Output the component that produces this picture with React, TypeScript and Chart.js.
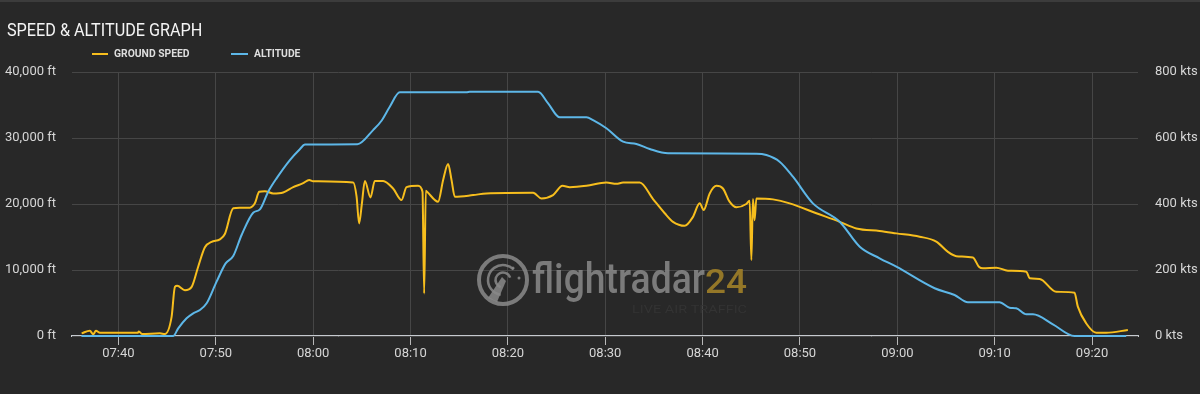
import React, { useEffect, useRef } from 'react';
import { Chart, registerables } from 'chart.js';

Chart.register(...registerables);

// Times are minutes after 07:00
const timeTickLabels = ['07:40', '07:50', '08:00', '08:10', '08:20', '08:30', '08:40', '08:50', '09:00', '09:10', '09:20'];
const timeMin = 35.23; // 07:35:14 (left edge)
const timeMax = 144.72; // 09:24:43 (right edge)

const speedMinutes = [36.22, 37.07, 37.41, 37.69, 38.1, 42.0, 42.1, 42.41, 44.26, 44.77, 45.46, 45.8, 46.04, 46.83, 47.52, 48.19, 48.88, 49.57, 50.42, 50.93, 51.79, 52.47, 53.5, 54.01, 54.46, 55.04, 55.89, 56.92, 57.95, 58.97, 59.59, 60.0, 64.11, 64.46, 64.72, 65.0, 65.31, 65.89, 66.33, 67.19, 68.21, 69.08, 69.59, 70.78, 71.23, 71.4, 71.57, 71.7, 72.83, 73.35, 73.86, 74.21, 74.55, 76.43, 77.8, 82.59, 83.45, 84.64, 85.61, 86.36, 88.07, 90.12, 91.15, 91.83, 93.54, 94.91, 96.11, 96.96, 98.16, 99.01, 99.7, 100.11, 100.73, 101.42, 102.09, 102.77, 103.47, 104.49, 104.83, 105.01, 105.17, 105.34, 105.52, 107.23, 108.94, 111.68, 114.08, 115.79, 118.18, 119.9, 122.29, 124.0, 125.2, 126.06, 127.76, 128.38, 128.79, 130.16, 131.36, 133.25, 133.59, 134.61, 136.32, 138.2, 138.54, 139.41, 140.43, 141.46, 143.68];
const speedKts = [8, 16, 5, 16, 10, 10, 14, 6, 8, 6, 58, 149, 152, 139, 149, 210, 269, 285, 293, 309, 387, 389, 389, 402, 437, 439, 432, 435, 451, 463, 473, 469, 465, 422, 341, 400, 470, 420, 470, 470, 447, 412, 451, 455, 437, 129, 440, 437, 407, 473, 521, 473, 422, 427, 432, 434, 417, 427, 455, 451, 455, 465, 461, 465, 465, 415, 372, 346, 334, 361, 402, 382, 432, 455, 447, 407, 390, 400, 410, 230, 415, 351, 417, 414, 402, 372, 346, 326, 318, 311, 301, 286, 255, 242, 238, 210, 205, 207, 198, 195, 175, 173, 134, 131, 89, 38, 10, 10, 18];

const altMinutes = [36.2, 45.63, 46.14, 47.0, 47.68, 48.37, 49.06, 50.08, 51.01, 51.79, 52.65, 53.84, 54.53, 55.38, 56.24, 57.61, 58.63, 59.15, 64.53, 66.16, 67.02, 67.87, 68.9, 75.75, 76.09, 83.1, 84.13, 85.33, 88.07, 88.75, 90.12, 91.83, 93.2, 94.57, 96.45, 105.52, 106.55, 107.91, 109.28, 111.33, 114.08, 116.14, 118.18, 119.9, 123.83, 125.88, 127.25, 130.5, 131.53, 132.21, 133.25, 133.93, 135.98, 138.2, 143.51];
const altFeet = [0, 0, 1160, 2680, 3440, 3940, 4950, 8230, 11010, 12120, 15300, 18680, 19190, 21860, 23890, 26660, 28300, 29000, 29040, 31200, 32620, 34740, 36920, 36920, 37010, 37010, 35250, 33130, 33130, 32720, 31470, 29440, 29090, 28330, 27680, 27620, 27420, 26410, 24130, 20100, 17320, 13530, 11770, 10500, 7230, 6210, 5100, 5100, 4290, 4200, 3280, 3280, 1770, 0, 0];

const SPEED_COLOR = '#f7be1d';
const ALT_COLOR = '#5db7e8';
const GRID_COLOR = '#464646';
const TEXT_COLOR = '#d6d6d6';

const toMinutes = (s: string) => {
  const [h, m] = s.split(':').map(Number);
  return (h - 7) * 60 + m;
};
const fmtTime = (v: number) => {
  const total = Math.round(v) + 7 * 60;
  const h = Math.floor(total / 60);
  const m = total % 60;
  return `${String(h).padStart(2, '0')}:${String(m).padStart(2, '0')}`;
};

const watermark = {
  id: 'fr24watermark',
  beforeDatasetsDraw(chart: any) {
    const ctx: CanvasRenderingContext2D = chart.ctx;
    ctx.save();
    const gray = 'rgba(138,138,138,0.85)';
    const cx = 503;
    const cy = 280;
    ctx.strokeStyle = gray;
    ctx.fillStyle = gray;
    ctx.lineWidth = 4;
    ctx.beginPath();
    ctx.arc(cx, cy, 24, 0, Math.PI * 2);
    ctx.stroke();
    ctx.lineWidth = 2.5;
    ctx.beginPath();
    ctx.arc(cx, cy, 15, Math.PI * 0.55, Math.PI * 1.75);
    ctx.stroke();
    ctx.beginPath();
    ctx.arc(cx, cy, 7.5, Math.PI * 0.6, Math.PI * 1.9);
    ctx.stroke();
    ctx.beginPath();
    ctx.moveTo(cx - 1, cy - 3);
    ctx.lineTo(cx + 3, cy + 1);
    ctx.lineTo(cx - 6, cy + 22);
    ctx.lineTo(cx - 15, cy + 18);
    ctx.closePath();
    ctx.fill();
    ctx.beginPath();
    ctx.arc(cx + 10, cy - 12, 1.5, 0, Math.PI * 2);
    ctx.fill();
    ctx.beginPath();
    ctx.arc(cx + 16, cy - 2, 1.5, 0, Math.PI * 2);
    ctx.fill();

    ctx.textBaseline = 'alphabetic';
    ctx.textAlign = 'left';
    // flightradar
    ctx.font = '500 42px Roboto';
    const w1 = ctx.measureText('flightradar').width;
    ctx.save();
    ctx.translate(532, 293);
    ctx.scale(173 / w1, 1);
    ctx.fillText('flightradar', 0, 0);
    ctx.restore();
    // 24
    ctx.font = '500 34px Roboto';
    const w2 = ctx.measureText('24').width;
    ctx.save();
    ctx.translate(705, 293);
    ctx.scale(42 / w2, 1);
    ctx.fillStyle = 'rgba(160,128,40,0.9)';
    ctx.fillText('24', 0, 0);
    ctx.restore();
    // tagline
    ctx.font = '11px Roboto';
    const w3 = ctx.measureText('LIVE AIR TRAFFIC').width;
    ctx.save();
    ctx.translate(632, 313);
    ctx.scale(115 / w3, 1);
    ctx.fillStyle = '#333333';
    ctx.fillText('LIVE AIR TRAFFIC', 0, 0);
    ctx.restore();
    ctx.restore();
  },
};

export default function App() {
  const canvasRef = useRef<HTMLCanvasElement>(null);

  useEffect(() => {
    const canvas = canvasRef.current;
    if (!canvas) return;
    const tickValues = timeTickLabels.map(toMinutes);
    const chart = new Chart(canvas, {
      type: 'line',
      data: {
        datasets: [
          {
            label: 'ALTITUDE',
            data: altMinutes.map((x, i) => ({ x, y: altFeet[i] })),
            borderColor: ALT_COLOR,
            backgroundColor: ALT_COLOR,
            borderWidth: 2,
            pointRadius: 0,
            cubicInterpolationMode: 'monotone',
            yAxisID: 'yAlt',
            clip: 4,
          },
          {
            label: 'GROUND SPEED',
            data: speedMinutes.map((x, i) => ({ x, y: speedKts[i] })),
            borderColor: SPEED_COLOR,
            backgroundColor: SPEED_COLOR,
            borderWidth: 2,
            pointRadius: 0,
            cubicInterpolationMode: 'monotone',
            yAxisID: 'ySpeed',
            clip: 4,
          },
        ],
      },
      options: {
        animation: false,
        responsive: false,
        devicePixelRatio: 1,
        layout: { padding: { top: 72, left: 0, right: 0, bottom: 0 } },
        plugins: {
          legend: { display: false },
          tooltip: { enabled: false },
          title: { display: false },
        },
        scales: {
          x: {
            type: 'linear',
            min: timeMin,
            max: timeMax,
            afterBuildTicks: (scale: any) => {
              scale.ticks = tickValues.map((v) => ({ value: v }));
            },
            afterFit: (scale: any) => {
              scale.height = 58;
            },
            ticks: {
              color: TEXT_COLOR,
              font: { family: 'Roboto', size: 13 },
              padding: 1,
              maxRotation: 0,
              autoSkip: false,
              callback: (v: any) => fmtTime(Number(v)),
            },
            grid: {
              color: GRID_COLOR,
              tickColor: '#b8b8b8',
              tickLength: 9,
              lineWidth: 1,
            },
            border: { display: true, color: '#c6cacf', width: 2, z: -1 },
          },
          yAlt: {
            type: 'linear',
            position: 'left',
            min: 0,
            max: 40000,
            afterFit: (scale: any) => {
              scale.width = 72;
            },
            ticks: {
              stepSize: 10000,
              color: TEXT_COLOR,
              font: { family: 'Roboto', size: 13 },
              padding: 16,
              callback: (v: any) => `${Number(v).toLocaleString('en-US')} ft`,
            },
            grid: { color: GRID_COLOR, drawTicks: false, lineWidth: 1 },
            border: { display: false },
          },
          ySpeed: {
            type: 'linear',
            position: 'right',
            min: 0,
            max: 800,
            afterFit: (scale: any) => {
              scale.width = 62;
            },
            ticks: {
              stepSize: 200,
              color: TEXT_COLOR,
              font: { family: 'Roboto', size: 13 },
              padding: 17,
              callback: (v: any) => `${v} kts`,
            },
            grid: { drawOnChartArea: false, drawTicks: false },
            border: { display: false },
          },
        },
      } as any,
      plugins: [watermark],
    });
    return () => chart.destroy();
  }, []);

  return (
    <div
      style={{
        position: 'fixed',
        left: 0,
        top: 0,
        width: 1200,
        height: 394,
        background: '#282828',
        overflow: 'hidden',
        fontFamily: 'Roboto, sans-serif',
      }}
    >
      <canvas
        ref={canvasRef}
        width={1200}
        height={394}
        style={{ position: 'absolute', left: 0, top: 0, width: 1200, height: 394 }}
      />
      <div style={{ position: 'absolute', left: 0, top: 0, width: 1200, height: 2, background: '#3c3c3c' }} />
      <div
        style={{
          position: 'absolute',
          left: 7,
          top: 20.8,
          fontSize: 18,
          lineHeight: '18px',
          color: '#f4f4f4',
          whiteSpace: 'nowrap',
          transform: 'scaleX(0.9)',
          transformOrigin: 'left top',
        }}
      >
        SPEED &amp; ALTITUDE GRAPH
      </div>
      <div style={{ position: 'absolute', left: 92, top: 53, width: 16, height: 2, background: SPEED_COLOR }} />
      <div
        style={{
          position: 'absolute',
          left: 114,
          top: 48.4,
          fontSize: 11,
          fontWeight: 700,
          lineHeight: '11px',
          color: '#dedede',
          whiteSpace: 'nowrap',
          transform: 'scaleX(0.94)',
          transformOrigin: 'left top',
        }}
      >
        GROUND SPEED
      </div>
      <div style={{ position: 'absolute', left: 231, top: 53, width: 17, height: 2, background: ALT_COLOR }} />
      <div
        style={{
          position: 'absolute',
          left: 254,
          top: 48.4,
          fontSize: 11,
          fontWeight: 700,
          lineHeight: '11px',
          color: '#dedede',
          whiteSpace: 'nowrap',
          transform: 'scaleX(0.94)',
          transformOrigin: 'left top',
        }}
      >
        ALTITUDE
      </div>
    </div>
  );
}
